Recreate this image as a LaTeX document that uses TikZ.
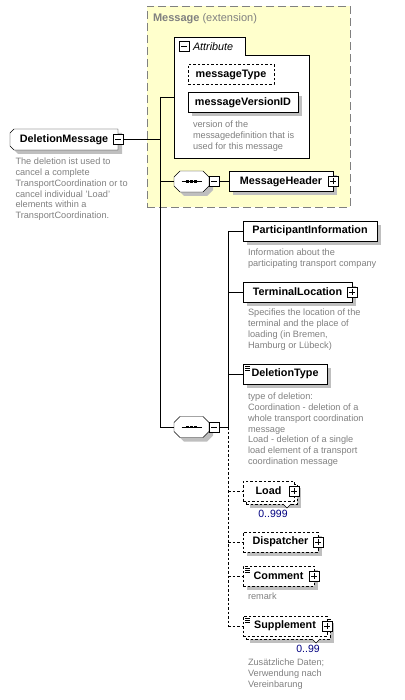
\documentclass[tikz,border=0pt]{standalone}
\usepackage{fontspec}
\setmainfont{Liberation Sans}
\usetikzlibrary{shadows,backgrounds}

\begin{document}
\begin{tikzpicture}[x=1pt,y=-1pt, every node/.style={outer sep=0pt},
  lbl/.style={font=\fontsize{10.8}{12}\selectfont\bfseries},
  elem/.style={lbl, draw, fill=white, minimum height=20pt, inner sep=0pt, anchor=west},
  shd/.style={drop shadow={shadow xshift=4pt, shadow yshift=-4pt, fill=black!25, opacity=1}},
  opt/.style={dash pattern=on 2.5pt off 2pt},
  desc/.style={anchor=north west, align=left, inner sep=0pt, text=black!50, font=\fontsize{9.2}{10.8}\selectfont},
  occ/.style={inner sep=0pt, text={rgb,255:red,0;green,0;blue,128}, font=\fontsize{10.5}{12}\selectfont},
  seqnode/.style={minimum width=35pt, minimum height=21pt, inner sep=0pt, anchor=west},
  minusbox/.style={draw, fill=white, minimum size=10pt, inner sep=0pt,
    path picture={\draw ([xshift=2pt]path picture bounding box.west) -- ([xshift=-2pt]path picture bounding box.east);}},
  plusbox/.style={draw, fill=white, minimum size=10pt, inner sep=0pt,
    path picture={\draw ([xshift=2pt]path picture bounding box.west) -- ([xshift=-2pt]path picture bounding box.east);
      \draw ([yshift=2pt]path picture bounding box.south) -- ([yshift=-2pt]path picture bounding box.north);}}]
\useasboundingbox (0,0) rectangle (404,700);

% Message (extension)
\node[draw=black!50, dash pattern=on 8pt off 4pt, fill={rgb,255:red,255;green,255;blue,204}, minimum width=203pt, minimum height=201pt, anchor=north west] (msgext) at (147,6) {};
\node[anchor=west, inner sep=0pt, text=black!50, font=\fontsize{11}{12}\selectfont] (msgtitle) at (153,18.5) {\textbf{Message} (extension)};

% attribute group
\filldraw[fill=white] (174,37) -- (245,37) -- (245,55) -- (309,55) -- (309,158) -- (174,158) -- cycle;
\coordinate (attr) at (174,97);
\node[minusbox] (attrx) at (184,46.5) {};
\node[anchor=west, inner sep=0pt, font=\fontsize{10.8}{12}\selectfont\itshape] (attrlbl) at (193,46.5) {Attribute};
\node[elem, opt, minimum width=86pt] (msgtype) at (188,74.5) {messageType};
\node[elem, shd, minimum width=110pt] (msgver) at (188,102.5) {messageVersionID};
\node[desc] (msgverdesc) at (193,121) {version of the\\messagedefinition that is\\used for this message};

% root
\node[elem, draw=none, fill=none, minimum width=108pt, minimum height=21pt] (delmsg) at (10,139.5) {DeletionMessage};
\begin{pgfonlayer}{background}
\filldraw[fill=white, shd] ([xshift=4pt]delmsg.north west) -- (delmsg.north east) -- (delmsg.south east)
  -- ([xshift=4pt]delmsg.south west) -- ([yshift=4pt]delmsg.south west) -- ([yshift=-4pt]delmsg.north west) -- cycle;
\end{pgfonlayer}
\node[minusbox] (dmx) at (delmsg.east) {};
\node[desc] (delmsgdesc) at (15.5,158) {The deletion ist used to\\cancel a complete\\TransportCoordination or to\\cancel individual 'Load'\\elements within a\\TransportCoordination.};

% sequences
\node[seqnode] (seq1) at (174,181.5) {};
\node[seqnode] (seq2) at (174,427) {};
\foreach \n in {seq1,seq2} {
  \filldraw[fill=white, shd] ([xshift=6pt]\n.north west) -- ([xshift=-6pt]\n.north east) -- ([yshift=-6pt]\n.north east)
    -- ([yshift=6pt]\n.south east) -- ([xshift=-6pt]\n.south east) -- ([xshift=6pt]\n.south west)
    -- ([yshift=6pt]\n.south west) -- ([yshift=-6pt]\n.north west) -- cycle;
  \draw ([xshift=-10pt]\n.center) -- ([xshift=10pt]\n.center);
  \foreach \d in {-4,0,4} \fill ([xshift=\d pt]\n.center) +(-1.3,-1.3) rectangle +(1.3,1.3);
}
\node[minusbox, anchor=west] (sq1x) at (seq1.east) {};
\node[minusbox, anchor=west] (sq2x) at (seq2.east) {};

\node[elem, shd, minimum width=104pt] (mhdr) at (229,181.5) {MessageHeader};
\node[plusbox] (mhdrx) at (mhdr.east) {};

% children
\node[elem, shd, minimum width=134pt] (part) at (243,231) {ParticipantInformation};
\node[desc] (partdesc) at (248,249) {Information about the\\participating transport company};

\node[elem, shd, minimum width=109pt] (term) at (243,292) {TerminalLocation};
\node[plusbox] (termx) at (term.east) {};
\node[desc] (termdesc) at (248,309) {Specifies the location of the\\terminal and the place of\\loading (in Bremen,\\Hamburg or Lübeck)};

\node[elem, shd, minimum width=84pt] (deltype) at (243,374) {DeletionType};
\node[desc] (deltypedesc) at (248,393) {type of deletion:\\Coordination - deletion of a\\whole transport coordination\\message\\Load - deletion of a single\\load element of a transport\\coordination message};

\node[elem, opt, shd, minimum width=51pt] (loadbk) at (246,494) {};
\node[elem, opt, minimum width=51pt] (load) at (243,491) {Load};
\node[plusbox] (loadx) at (load.east) {};
\node[occ] (loadocc) at (273,514) {0..999};

\node[elem, opt, shd, minimum width=75pt] (dispatcher) at (243,542) {Dispatcher};
\node[plusbox] (dispatcherx) at (dispatcher.east) {};

\node[elem, opt, shd, minimum width=71pt] (comment) at (243,576) {Comment};
\node[plusbox] (commentx) at (comment.east) {};
\node[desc] (commentdesc) at (248,593) {remark};

\node[elem, opt, shd, minimum width=84pt] (supplbk) at (246,629) {};
\node[elem, opt, minimum width=84pt] (suppl) at (243,626) {Supplement};
\node[plusbox] (supplx) at (suppl.east) {};
\node[occ] (suppocc) at (308,649) {0..99};
\node[desc] (suppldesc) at (248,659) {Zusätzliche Daten;\\Verwendung nach\\Vereinbarung};

% notches and simple type marks
\foreach \n/\dx in {loadbk/14,supplbk/18}
  \filldraw[fill=white] ([xshift=-\dx pt]\n.south east) -- ++(4,4) -- ++(4,-4);
\foreach \n in {deltype,comment,suppl}
  \foreach \k in {2,4,6} \draw[line width=0.6pt] ([shift={(2,\k)}]\n.north west) -- ++(5,0);

% connectors
\coordinate (b1t) at (160,97);
\coordinate (b1b) at (160,427);
\draw (b1t) -- (b1b);
\draw (b1t) -- (attr);
\draw (dmx.east) -- (dmx.east -| b1t);
\draw (b1t |- seq1.west) -- (seq1.west);
\draw (b1b) -- (seq2.west);
\draw (sq1x.east) -- (mhdr.west);

\coordinate (b2t) at (228,231);
\coordinate (b2b) at (228,626);
\draw (b2t) -- (b2t |- sq2x.east);
\draw[opt] (b2t |- sq2x.east) -- (b2b);
\draw (sq2x.east) -- (b2t |- sq2x.east);
\foreach \n in {part,term,deltype} \draw (b2t |- \n.west) -- (\n.west);
\foreach \n in {load,dispatcher,comment,suppl} \draw[opt] (b2t |- \n.west) -- (\n.west);
\end{tikzpicture}
\end{document}
